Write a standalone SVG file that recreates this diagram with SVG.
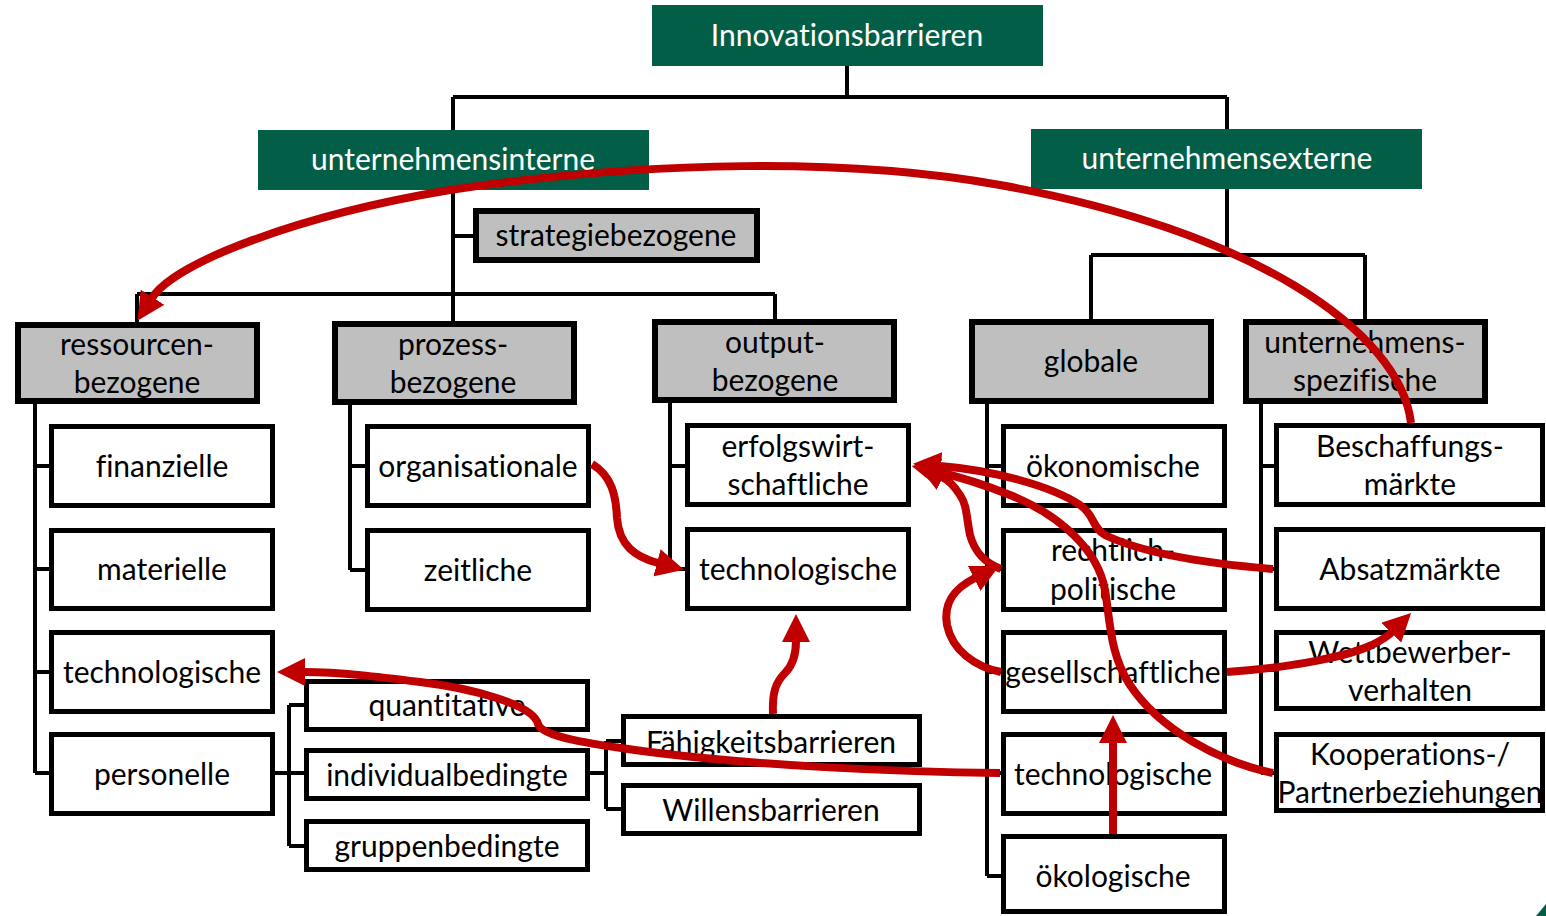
<svg xmlns="http://www.w3.org/2000/svg" width="1546" height="916" viewBox="0 0 1546 916">
  <style>
    .head { fill: #035E47; }
    .cat { fill: #BFBFBF; stroke: #000; stroke-width: 6; }
    .leaf { fill: #FFF; stroke: #000; stroke-width: 5; }
    .tree { fill: none; stroke: #000; stroke-width: 4; }
    .flow { fill: none; stroke: #C00000; stroke-width: 8; marker-end: url(#arrow); }
    text { font-family: "Lato", "Liberation Sans", sans-serif; font-size: 30px; text-anchor: middle; fill: #000; font-variant-ligatures: none; }
    .w { fill: #FFF; }
  </style>
  <defs>
    <marker id="arrow" markerUnits="userSpaceOnUse" viewBox="0 0 28 28" markerWidth="28" markerHeight="28" refX="1" refY="14" orient="auto">
      <path d="M0,0 L28,14 L0,28 Z" fill="#C00000"/>
    </marker>
  </defs>

  <rect width="1546" height="916" fill="#FFF"/>

  <!-- hierarchy lines -->
  <g id="tree-links" class="tree">
    <path d="M847,66 V97 M453,97 H1227 M453,97 V130 M1227,97 V129"/>
    <path d="M453,190 V321 M453,236 H473"/>
    <path d="M137,294 H775 M137,294 V322 M775,294 V319"/>
    <path d="M1227,189 V255 M1091,255 H1365 M1091,255 V319 M1365,255 V319"/>
    <path d="M35,404 V773 M35,466 H49 M35,569 H49 M35,672 H49 M35,773 H49"/>
    <path d="M350,405 V570 M350,466 H365 M350,570 H365"/>
    <path d="M670,403 V569 M670,466 H685 M670,569 H685"/>
    <path d="M275,773 H304 M289,705 V846 M289,705 H304 M289,846 H304"/>
    <path d="M590,773 H606 M606,741 V809 M606,741 H621 M606,809 H621"/>
    <path d="M987,404 V876 M987,466 H1001 M987,569 H1001 M987,672 H1001 M987,773 H1001 M987,876 H1001"/>
    <path d="M1261,404 V773 M1261,466 H1274 M1261,569 H1274 M1261,670 H1274 M1261,773 H1274"/>
  </g>

  <!-- top levels -->
  <g id="innovationsbarrieren">
    <rect class="head" x="652" y="5" width="391" height="61"/>
    <text class="w" x="847" y="46">Innovationsbarrieren</text>
  </g>
  <g id="unternehmensinterne">
    <rect class="head" x="258" y="130" width="391" height="60"/>
    <text class="w" x="453" y="170">unternehmensinterne</text>
  </g>
  <g id="unternehmensexterne">
    <rect class="head" x="1031" y="129" width="391" height="60"/>
    <text class="w" x="1227" y="169">unternehmensexterne</text>
  </g>

  <!-- categories -->
  <g id="strategiebezogene">
    <rect class="cat" x="476" y="211" width="281" height="49"/>
    <text x="616" y="246">strategiebezogene</text>
  </g>
  <g id="ressourcenbezogene">
    <rect class="cat" x="18" y="325" width="239" height="76"/>
    <text x="137" y="355">ressourcen-</text>
    <text x="137" y="393">bezogene</text>
  </g>
  <g id="prozessbezogene">
    <rect class="cat" x="335" y="324" width="239" height="78"/>
    <text x="453" y="355">prozess-</text>
    <text x="453" y="393">bezogene</text>
  </g>
  <g id="outputbezogene">
    <rect class="cat" x="655" y="322" width="239" height="78"/>
    <text x="775" y="353">output-</text>
    <text x="775" y="391">bezogene</text>
  </g>
  <g id="globale">
    <rect class="cat" x="972" y="322" width="239" height="79"/>
    <text x="1091" y="372">globale</text>
  </g>
  <g id="unternehmensspezifische">
    <rect class="cat" x="1246" y="322" width="239" height="79"/>
    <text x="1365" y="353">unternehmens-</text>
    <text x="1365" y="391">spezifische</text>
  </g>

  <!-- resource related -->
  <g id="finanzielle">
    <rect class="leaf" x="51.5" y="426.5" width="221" height="79"/>
    <text x="162" y="477">finanzielle</text>
  </g>
  <g id="materielle">
    <rect class="leaf" x="51.5" y="530.5" width="221" height="78"/>
    <text x="162" y="580">materielle</text>
  </g>
  <g id="technologische-ressourcen">
    <rect class="leaf" x="51.5" y="632.5" width="221" height="79"/>
    <text x="162" y="683">technologische</text>
  </g>
  <g id="personelle">
    <rect class="leaf" x="51.5" y="734.5" width="221" height="79"/>
    <text x="162" y="785">personelle</text>
  </g>

  <!-- process related -->
  <g id="organisationale">
    <rect class="leaf" x="367.5" y="426.5" width="221" height="79"/>
    <text x="478" y="477">organisationale</text>
  </g>
  <g id="zeitliche">
    <rect class="leaf" x="367.5" y="530.5" width="221" height="79"/>
    <text x="478" y="581">zeitliche</text>
  </g>

  <!-- output related -->
  <g id="erfolgswirtschaftliche">
    <rect class="leaf" x="687.5" y="425.5" width="221" height="79"/>
    <text x="798" y="457">erfolgswirt-</text>
    <text x="798" y="495">schaftliche</text>
  </g>
  <g id="technologische-output">
    <rect class="leaf" x="687.5" y="529.5" width="221" height="79"/>
    <text x="798" y="580">technologische</text>
  </g>

  <!-- personnel sub-levels -->
  <g id="quantitative">
    <rect class="leaf" x="306.5" y="681.5" width="281" height="48"/>
    <text x="447" y="716">quantitative</text>
  </g>
  <g id="individualbedingte">
    <rect class="leaf" x="306.5" y="750.5" width="281" height="48"/>
    <text x="447" y="786">individualbedingte</text>
  </g>
  <g id="gruppenbedingte">
    <rect class="leaf" x="306.5" y="821.5" width="281" height="48"/>
    <text x="447" y="857">gruppenbedingte</text>
  </g>
  <g id="faehigkeitsbarrieren">
    <rect class="leaf" x="623.5" y="716.5" width="296" height="48"/>
    <text x="771" y="753">Fähigkeitsbarrieren</text>
  </g>
  <g id="willensbarrieren">
    <rect class="leaf" x="623.5" y="785.5" width="296" height="48"/>
    <text x="771" y="821">Willensbarrieren</text>
  </g>

  <!-- global -->
  <g id="oekonomische">
    <rect class="leaf" x="1003.5" y="426.5" width="221" height="79"/>
    <text x="1113" y="477">ökonomische</text>
  </g>
  <g id="rechtlich-politische">
    <rect class="leaf" x="1003.5" y="530.5" width="221" height="79"/>
    <text x="1113" y="561">rechtlich-</text>
    <text x="1113" y="600">politische</text>
  </g>
  <g id="gesellschaftliche">
    <rect class="leaf" x="1003.5" y="632.5" width="221" height="79"/>
    <text x="1113" y="683">gesellschaftliche</text>
  </g>
  <g id="technologische-global">
    <rect class="leaf" x="1003.5" y="734.5" width="221" height="79"/>
    <text x="1113" y="785">technologische</text>
  </g>
  <g id="oekologische">
    <rect class="leaf" x="1003.5" y="836.5" width="221" height="75"/>
    <text x="1113" y="887">ökologische</text>
  </g>

  <!-- company specific -->
  <g id="beschaffungsmaerkte">
    <rect class="leaf" x="1276.5" y="425.5" width="266" height="79"/>
    <text x="1410" y="457">Beschaffungs-</text>
    <text x="1410" y="495">märkte</text>
  </g>
  <g id="absatzmaerkte">
    <rect class="leaf" x="1276.5" y="529.5" width="266" height="79"/>
    <text x="1410" y="580">Absatzmärkte</text>
  </g>
  <g id="wettbewerberverhalten">
    <rect class="leaf" x="1276.5" y="632.5" width="266" height="76"/>
    <text x="1410" y="663">Wettbewerber-</text>
    <text x="1410" y="701">verhalten</text>
  </g>
  <g id="kooperationen">
    <rect class="leaf" x="1276.5" y="734.5" width="266" height="76"/>
    <text x="1410" y="765">Kooperations-/</text>
    <text x="1410" y="803">Partnerbeziehungen</text>
  </g>

  <!-- influence arrows -->
  <g id="influence-links">
    <path class="flow" d="M1411,423 C1400,330 1250,230 1000,185 C850,158 650,160 450,190 C300,215 175,262 152,298"/>
    <path class="flow" d="M592,464 C612,476 616,496 617,518 C619,545 635,557 658,563"/>
    <path class="flow" d="M773,714 C772,692 776,682 785,673 C793,665 796,655 796,641"/>
    <path class="flow" d="M1000,773 C900,772 760,766 650,752 C590,744 542,737 538,724 C533,704 470,688 420,682 C380,677 340,672 304,672"/>
    <path class="flow" d="M1273,569 C1200,563 1140,552 1105,535 C1092,528 1095,515 1080,505 C1050,485 990,470 940,466"/>
    <path class="flow" d="M1273,773 C1220,762 1160,730 1130,685 C1110,655 1110,620 1105,590 C1098,550 1060,515 1010,495 C985,485 960,477 938,472"/>
    <path class="flow" d="M1001,569 C985,563 975,553 970,535 C966,515 967,505 960,495 C955,487 950,481 942,477"/>
    <path class="flow" d="M1001,672 C975,667 952,650 947,625 C943,602 955,588 975,578"/>
    <path class="flow" d="M1227,672 C1300,667 1350,655 1372,645 C1380,641 1387,637 1392,632"/>
    <path class="flow" d="M1113,834 V742"/>
  </g>

  <polygon points="1546,904 1546,916 1536,916" fill="#035E47"/>
</svg>
